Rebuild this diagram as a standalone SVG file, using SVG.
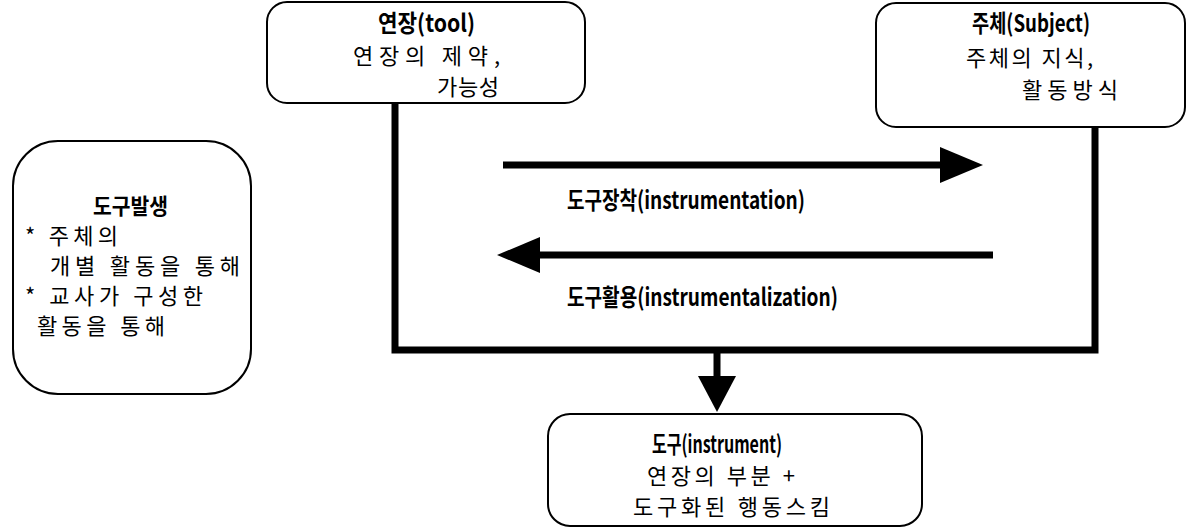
<svg xmlns="http://www.w3.org/2000/svg" width="1188" height="527" viewBox="0 0 1188 527">
<style>
.box{fill:#fff;stroke:#000;stroke-width:2}
.t{font-family:"Noto Sans CJK KR","Noto Sans",sans-serif;font-size:22px;fill:#000}
.h{font-family:"Noto Sans CJK KR","Liberation Sans",sans-serif;font-size:24px;font-weight:bold;fill:#000}
.w{fill:none;stroke:#000;stroke-width:7}
</style>
<rect width="1188" height="527" fill="#fff"/>
<g id="connectors">
<polyline class="w" points="395,103 395,350 1095,350 1095,127"/>
<line class="w" x1="717" y1="350" x2="717" y2="378"/>
<polygon points="698,376 736,376 717,412" fill="#000"/>
<line class="w" x1="503" y1="165" x2="945" y2="165"/>
<polygon points="940,147 983,165 940,183" fill="#000"/>
<line class="w" x1="993" y1="255" x2="535" y2="255"/>
<polygon points="540,237 497,255 540,273" fill="#000"/>
<text class="h" x="567" y="209" textLength="238" lengthAdjust="spacingAndGlyphs">도구장착(instrumentation)</text>
<text class="h" x="567" y="306" textLength="271" lengthAdjust="spacingAndGlyphs">도구활용(instrumentalization)</text>
</g>
<g id="tool">
<rect class="box" x="267" y="2" width="318" height="101" rx="20"/>
<text class="h" x="378" y="32" textLength="97" lengthAdjust="spacingAndGlyphs">연장(tool)</text>
<text class="t" x="353" y="64" textLength="147" lengthAdjust="spacing">연장의 제약,</text>
<text class="t" x="437" y="95" textLength="62" lengthAdjust="spacing">가능성</text>
</g>
<g id="subject">
<rect class="box" x="876" y="3" width="309" height="124" rx="20"/>
<text class="h" x="972" y="32" textLength="118" lengthAdjust="spacingAndGlyphs">주체(Subject)</text>
<text class="t" x="966" y="66" textLength="127" lengthAdjust="spacing">주체의 지식,</text>
<text class="t" x="1022" y="98" textLength="96" lengthAdjust="spacing">활동방식</text>
</g>
<g id="genesis">
<rect class="box" x="13" y="141" width="238" height="253" rx="45"/>
<text class="t" x="93" y="214" textLength="75" lengthAdjust="spacingAndGlyphs" style="font-weight:bold">도구발생</text>
<text class="t" x="25" y="244" textLength="93" lengthAdjust="spacing">* 주체의</text>
<text class="t" x="50" y="274" textLength="190" lengthAdjust="spacing">개별 활동을 통해</text>
<text class="t" x="25" y="304" textLength="178" lengthAdjust="spacing">* 교사가 구성한</text>
<text class="t" x="37" y="334" textLength="128" lengthAdjust="spacing">활동을 통해</text>
</g>
<g id="instrument">
<rect class="box" x="548" y="414" width="374" height="112" rx="22"/>
<text class="h" x="652" y="453" textLength="130" lengthAdjust="spacingAndGlyphs">도구(instrument)</text>
<text class="t" x="647" y="484" textLength="148" lengthAdjust="spacing">연장의 부분 +</text>
<text class="t" x="633" y="515" textLength="197" lengthAdjust="spacing">도구화된 행동스킴</text>
</g>
</svg>
